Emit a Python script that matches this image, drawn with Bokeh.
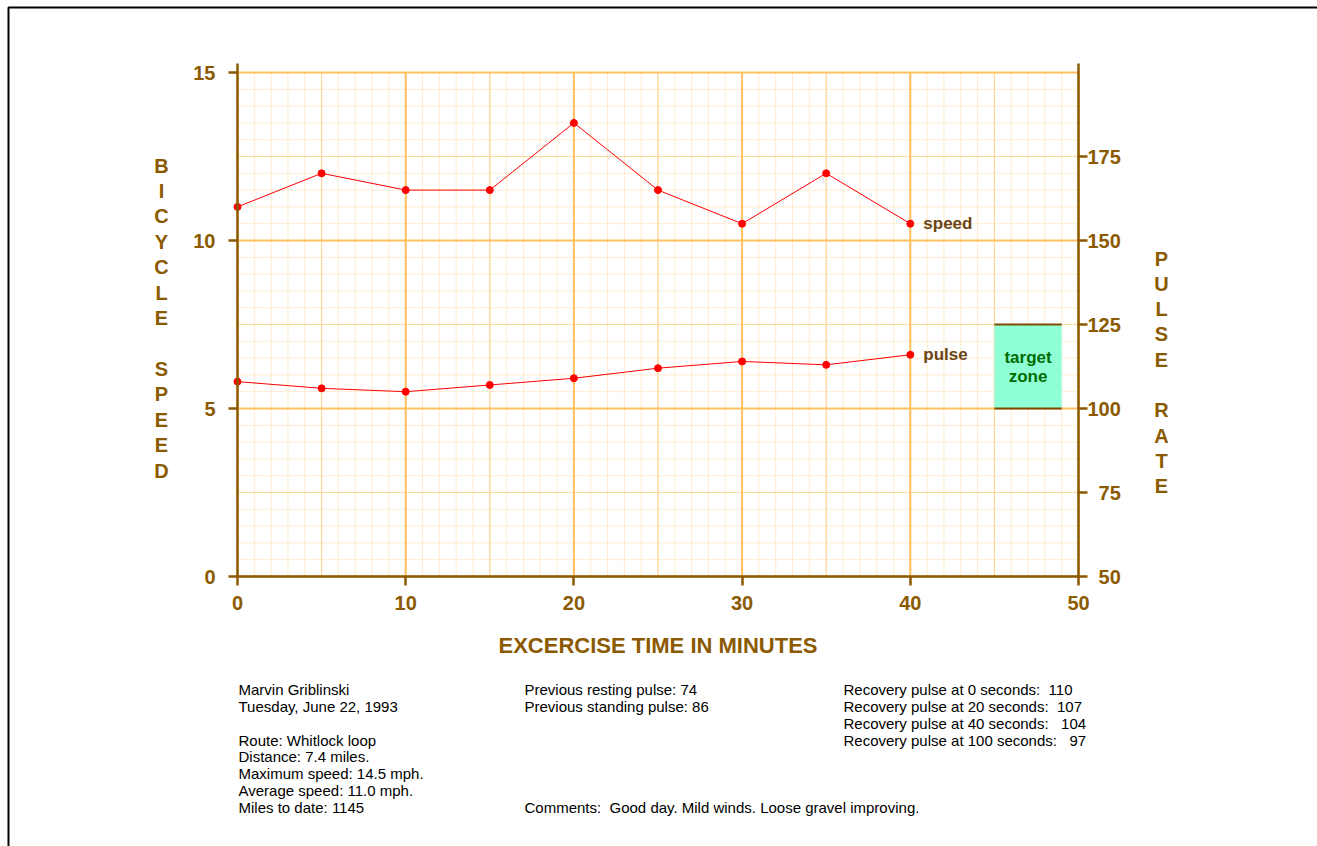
import numpy as np
from bokeh.plotting import figure
from bokeh.models import Range1d, LinearAxis, FixedTicker, Label, BoxAnnotation
from bokeh.embed import file_html
from bokeh.resources import INLINE

# ---------------- data ----------------
time_min = [0, 5, 10, 15, 20, 25, 30, 35, 40]
speed_mph = [11.0, 12.0, 11.5, 11.5, 13.5, 11.5, 10.5, 12.0, 10.5]
pulse_rate = [108, 106, 105, 107, 109, 112, 114, 113, 116]

time_ticks = [0, 10, 20, 30, 40, 50]
speed_ticks = [0, 5, 10, 15]
pulse_ticks = [50, 75, 100, 125, 150, 175]

target_time = [45, 49]
target_pulse = [100, 125]

x_title = "EXCERCISE TIME IN MINUTES"
left_title = "BICYCLE SPEED"
right_title = "PULSE RATE"

info_left = ["Marvin Griblinski", "Tuesday, June 22, 1993", "",
             "Route: Whitlock loop", "Distance: 7.4 miles.",
             "Maximum speed: 14.5 mph.", "Average speed: 11.0 mph.",
             "Miles to date: 1145"]
info_mid = ["Previous resting pulse: 74", "Previous standing pulse: 86",
            "", "", "", "", "",
            "Comments:\u00a0 Good day. Mild winds. Loose gravel improving."]
info_right = ["Recovery pulse at 0 seconds:\u00a0 110",
              "Recovery pulse at 20 seconds:\u00a0 107",
              "Recovery pulse at 40 seconds:\u00a0\u00a0 104",
              "Recovery pulse at 100 seconds:\u00a0\u00a0 97"]

# ---------------- styling / layout ----------------
BROWN = "#8B5A00"
DARK_BROWN = "#6B4512"
GREEN_TXT = "#006B00"
ZONE_FILL = "#8FFFD6"
MAJ = "#FFC060"
MED = "#FFD89A"
MIN = "#FFEBCF"
FONT = "Liberation Sans"

W, H = 1317, 846
# chart area in canvas pixels: x 0..50 -> 237..1078, speed 0..15 -> 576..72
X0, X1, Y0, Y1 = 237.0, 1078.0, 576.0, 72.0
XPX = (X1 - X0) / 50.0
YPX = (Y0 - Y1) / 15.0


def dx(px):
    return (px - X0) / XPX


def dy(py):
    return (Y0 - py) / YPX


y_lo, y_hi = dy(H), dy(0)
p = figure(width=W, height=H, output_backend="svg", toolbar_location=None,
           x_range=Range1d(dx(0), dx(W)), y_range=Range1d(y_lo, y_hi),
           x_axis_type=None, y_axis_type=None, min_border=0)
p.extra_y_ranges = {"pulse": Range1d(50 + 10 * y_lo, 50 + 10 * y_hi)}
p.outline_line_color = None
p.background_fill_color = "white"
p.border_fill_color = "white"

# page frame (top and left edges visible)
p.add_layout(BoxAnnotation(left=dx(8), top=dy(7), right=dx(W + 50), bottom=dy(H + 50),
                           fill_alpha=0, line_color="black", line_alpha=1, line_width=2))

# graph-paper grid: minor, medium, major
for step_x, step_y, col, lw in [(1, 0.5, MIN, 1), (5, 2.5, MED, 1.2), (10, 5, MAJ, 2)]:
    gx = np.arange(0, 50 + 1e-9, step_x)
    gy = np.arange(0, 15 + 1e-9, step_y)
    p.segment(x0=gx, x1=gx, y0=0, y1=15, line_color=col, line_width=lw)
    p.segment(x0=0, x1=50, y0=gy, y1=gy, line_color=col, line_width=lw)

# target zone
p.quad(left=[target_time[0]], right=[target_time[1]],
       bottom=[target_pulse[0]], top=[target_pulse[1]], y_range_name="pulse",
       fill_color=ZONE_FILL, line_color=None)
p.segment(x0=[target_time[0]] * 2, x1=[target_time[1]] * 2,
          y0=target_pulse, y1=target_pulse, y_range_name="pulse",
          line_color="#7A4A00", line_width=2)
zx = sum(target_time) / 2
zy = sum(target_pulse) / 2
for txt, off in [("target", 9), ("zone", -10)]:
    p.add_layout(Label(x=zx, y=zy, y_range_name="pulse", y_offset=off, text=txt,
                       text_align="center", text_baseline="middle",
                       text_font=FONT, text_font_style="bold", text_font_size="17px",
                       text_color=GREEN_TXT))

# series
p.line(time_min, speed_mph, line_color="red", line_width=1)
p.scatter(time_min, speed_mph, size=7, fill_color="red", line_color="red")
p.line(time_min, pulse_rate, y_range_name="pulse", line_color="red", line_width=1)
p.scatter(time_min, pulse_rate, y_range_name="pulse", size=7,
          fill_color="red", line_color="red")

p.add_layout(Label(x=time_min[-1], y=speed_mph[-1], x_offset=13, text="speed",
                   text_baseline="middle", text_font=FONT, text_font_style="bold",
                   text_font_size="17px", text_color=DARK_BROWN))
p.add_layout(Label(x=time_min[-1], y=pulse_rate[-1], y_range_name="pulse", x_offset=13,
                   text="pulse", text_baseline="middle", text_font=FONT,
                   text_font_style="bold", text_font_size="17px", text_color=DARK_BROWN))


# axes (drawn at fixed locations inside the full-canvas frame)
def style_axis(ax, standoff):
    ax.axis_line_color = BROWN
    ax.axis_line_width = 2.5
    ax.major_tick_line_color = BROWN
    ax.major_tick_line_width = 2.5
    ax.major_tick_out = 9
    ax.major_tick_in = 0
    ax.minor_tick_line_color = None
    ax.major_label_text_font = FONT
    ax.major_label_text_font_style = "bold"
    ax.major_label_text_font_size = "20px"
    ax.major_label_text_color = BROWN
    ax.major_label_standoff = standoff


top_ext = dy(63)   # axis lines run a little above the 15 line

xa = LinearAxis(ticker=FixedTicker(ticks=time_ticks), fixed_location=0, bounds=(0, 50))
style_axis(xa, 10)
p.add_layout(xa, "below")

ya = LinearAxis(ticker=FixedTicker(ticks=speed_ticks), fixed_location=0, bounds=(0, top_ext))
style_axis(ya, 13)
p.add_layout(ya, "left")

ra = LinearAxis(y_range_name="pulse", ticker=FixedTicker(ticks=pulse_ticks),
                fixed_location=50, bounds=(50, 50 + 10 * top_ext))
style_axis(ra, 0)
ra.major_label_overrides = {50: "\u00a0\u00a050", 75: "\u00a0\u00a075"}
p.add_layout(ra, "right")

# axis titles
p.add_layout(Label(x=25, y=dy(645), text=x_title, text_align="center",
                   text_baseline="middle", text_font=FONT, text_font_style="bold",
                   text_font_size="22px", text_color=BROWN))
for i, ch in enumerate(left_title):
    if ch.strip():
        p.add_layout(Label(x=dx(161), y=dy(165 + i * 25.42), text=ch, text_align="center",
                           text_baseline="middle", text_font=FONT, text_font_style="bold",
                           text_font_size="20px", text_color=BROWN))
for i, ch in enumerate(right_title):
    if ch.strip():
        p.add_layout(Label(x=dx(1161), y=dy(258 + i * 25.3), text=ch, text_align="center",
                           text_baseline="middle", text_font=FONT, text_font_style="bold",
                           text_font_size="20px", text_color=BROWN))

# info block
for col_x, lines in [(238, info_left), (524, info_mid), (843, info_right)]:
    for i, t in enumerate(lines):
        if t:
            p.add_layout(Label(x=dx(col_x), y=dy(689 + i * 16.85), text=t,
                               text_baseline="middle", text_font=FONT,
                               text_font_size="15px", text_color="black"))

open("out.html", "w").write(file_html(p, INLINE))
